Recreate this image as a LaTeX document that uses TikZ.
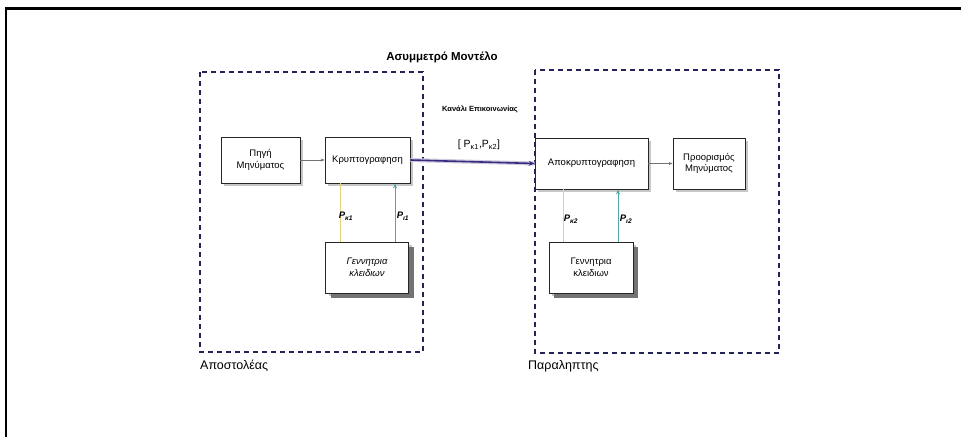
\documentclass[tikz,border=0pt]{standalone}
\usepackage{fontspec}
\setmainfont{Liberation Sans}
\usetikzlibrary{arrows.meta,shadows}
\definecolor{navy}{HTML}{23235A}
\definecolor{chan}{HTML}{3B2A7E}
\definecolor{keyyel}{HTML}{E6D47A}
\definecolor{keyteal}{HTML}{4FA6A6}
\tikzset{
  frame/.style={line width=2.2pt,black},
  zone/.style={draw=navy,line width=1.8pt,dash pattern=on 5pt off 4pt},
  block/.style={draw=black!85,line width=0.8pt,fill=white,align=center,
    font=\fontsize{9.5}{11.5}\selectfont,inner sep=1pt,
    drop shadow={shadow xshift=3pt,shadow yshift=-3pt,fill=black!22,opacity=1}},
  genbox/.style={block,drop shadow={shadow xshift=5pt,shadow yshift=-5pt,fill=black!55,opacity=1}},
  flow/.style={draw=black!55,line width=0.6pt,-{Stealth[length=4pt,width=3pt]}},
  keyline/.style={line width=0.9pt},
  keylab/.style={font=\bfseries\itshape\fontsize{9.5}{10}\selectfont,inner sep=0pt},
  zonelabel/.style={font=\fontsize{12.5}{14}\selectfont,anchor=west,inner sep=0pt}
}
\begin{document}
\begin{tikzpicture}[x=1pt,y=-1pt]
\useasboundingbox (0,0) rectangle (961,437);
\fill[white] (0,0) rectangle (961,437);

% page frame (top and left edge)
\draw[frame] (961,8.5) -- (6,8.5) -- (6,437);

% title
\node[font=\bfseries\fontsize{11.5}{13}\selectfont] (title) at (442,57) {Ασυμμετρό Μοντέλο};

% sender and receiver zones
\draw[zone] (200,72) rectangle (423,352);
\draw[zone] (535,70) rectangle (779,353);
\node[zonelabel] (snd) at (200,366) {Αποστολέας};
\node[zonelabel] (rcv) at (528,366) {Παραληπτης};

% sender side
\node[block,minimum width=79pt,minimum height=46pt] (src) at (260.5,160) {Πηγή\\Μηνύματος};
\node[block,minimum width=85pt,minimum height=46pt] (enc) at (367.5,160) {Κρυπτογραφηση};
\node[genbox,minimum width=83pt,minimum height=51pt,font=\itshape\fontsize{9.5}{11.5}\selectfont] (genL) at (367,267.5) {Γεννητρια\\κλειδιων};

% receiver side
\node[block,minimum width=113pt,minimum height=51pt] (dec) at (591.5,163.5) {Αποκρυπτογραφηση};
\node[block,minimum width=72pt,minimum height=51pt] (dst) at (709,163.5) {Προορισμός\\Μηνύματος};
\node[genbox,minimum width=84pt,minimum height=51pt] (genR) at (591,267.5) {Γεννητρια\\κλειδιων};

% message flow
\draw[flow] (src.east) -- (enc.west);
\draw[flow] (dec.east) -- (dst.west);

% communication channel
\draw[line width=4pt,chan!25] (enc.east) -- (dec.west);
\draw[line width=1.6pt,chan,-{Stealth[length=6pt,width=5pt]}] (enc.east) -- (dec.west);
\node[font=\bfseries\fontsize{7.5}{9}\selectfont] (chlab) at (480,109) {Κανάλι Επικοινωνίας};
\node[font=\fontsize{10.5}{12}\selectfont] (keys) at (479,145) {[ P\textsubscript{κ1},P\textsubscript{κ2}]};

% key links, sender
\coordinate (ly) at (340,0);
\coordinate (lt) at (395,0);
\draw[keyline,keyyel] (genL.north -| ly) -- (enc.south -| ly);
\draw[keyline,keyteal,-{Stealth[length=5pt,width=4pt]}] (genL.north -| lt) -- (enc.south -| lt);
\node[keylab] (k1) at (346,216) {P\textsubscript{κ1}};
\node[keylab] (k2) at (403,216) {P\textsubscript{ι1}};

% key links, receiver
\coordinate (ry) at (563,0);
\coordinate (rt) at (618,0);
\draw[keyline,keyyel] (genR.north -| ry) -- (dec.south -| ry);
\draw[keyline,keyteal,-{Stealth[length=5pt,width=4pt]}] (genR.north -| rt) -- (dec.south -| rt);
\node[keylab] (k3) at (571,219) {P\textsubscript{κ2}};
\node[keylab] (k4) at (626,219) {P\textsubscript{ι2}};
\end{tikzpicture}
\end{document}
